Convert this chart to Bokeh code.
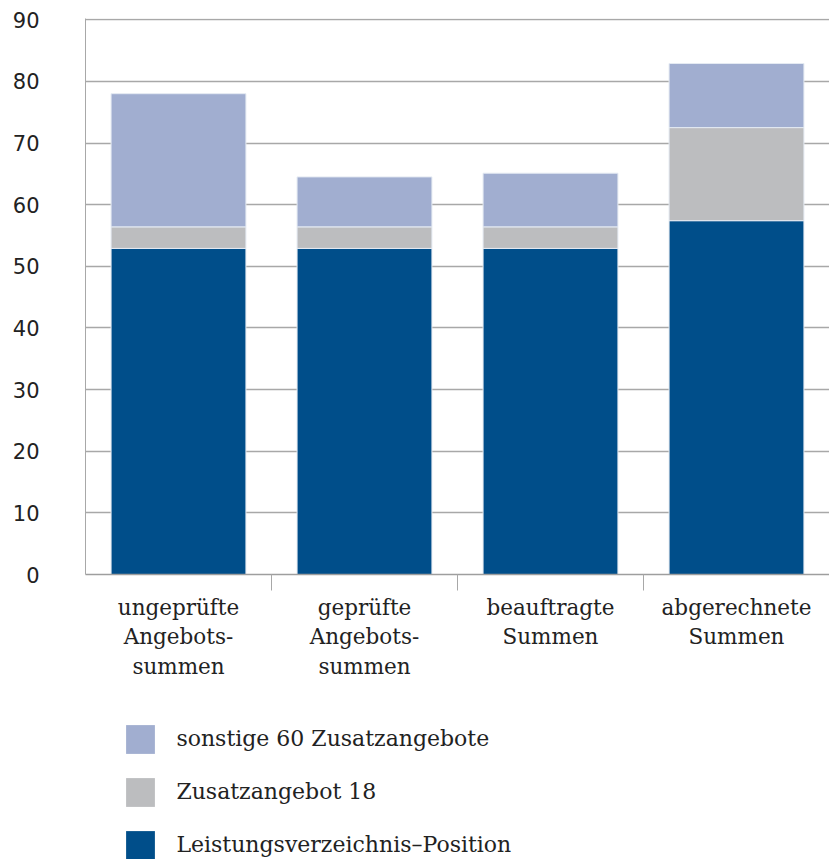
from bokeh.plotting import figure
from bokeh.layouts import column
from bokeh.models import ColumnDataSource, Range1d, FixedTicker, Legend, LegendItem
from bokeh.embed import file_html
from bokeh.resources import INLINE

# Categories (x axis) and stacked series values (Mio. EUR)
categories = [
    "ungeprüfte\nAngebots-\nsummen",
    "geprüfte\nAngebots-\nsummen",
    "beauftragte\nSummen",
    "abgerechnete\nSummen",
]
leistungsverzeichnis = [52.9, 52.9, 52.9, 57.4]
zusatzangebot_18 = [3.5, 3.5, 3.5, 15.1]
sonstige_60 = [21.6, 8.1, 8.7, 10.4]

series_names = [
    "Leistungsverzeichnis–Position",
    "Zusatzangebot 18",
    "sonstige 60 Zusatzangebote",
]
series_colors = ["#004E8A", "#BCBDBF", "#A1AED0"]
y_ticks = [0, 10, 20, 30, 40, 50, 60, 70, 80, 90]

W = 829
CHART_H = 700
LEGEND_H = 159
outline = "#E4EAF2"

x_pos = [i + 0.5 for i in range(len(categories))]
source = ColumnDataSource(dict(
    x=x_pos,
    lv=leistungsverzeichnis,
    z18=zusatzangebot_18,
    s60=sonstige_60,
))
stackers = ["lv", "z18", "s60"]

# a hair of headroom above 90 so the top grid line is not clipped by the frame
p = figure(
    width=W, height=CHART_H,
    output_backend="svg", toolbar_location=None,
    x_range=Range1d(0, len(categories)), y_range=Range1d(0, 90.2),
    min_border_left=85, min_border_right=0,
    min_border_top=18, min_border_bottom=CHART_H - 574,
)
p.outline_line_color = None

p.vbar_stack(
    stackers, x="x", width=0.725, source=source,
    fill_color=series_colors, line_color=outline, line_width=1,
)

grid_gray = "#A8A8A8"

# x axis: labels centred under bars, separators between categories
p.xaxis.ticker = FixedTicker(ticks=x_pos, minor_ticks=list(range(1, len(categories))))
p.xaxis.major_label_overrides = {xv: c for xv, c in zip(x_pos, categories)}
p.xaxis.major_tick_line_color = None
p.xaxis.major_tick_out = 0
p.xaxis.major_tick_in = 0
p.xaxis.minor_tick_in = 0
p.xaxis.minor_tick_out = 16
p.xaxis.minor_tick_line_color = grid_gray
p.xaxis.axis_line_color = "#9E9E9E"
p.xaxis.axis_line_width = 1.5
p.xaxis.major_label_text_font = "DejaVu Serif"
p.xaxis.major_label_text_font_size = "21.5px"
p.xaxis.major_label_text_color = "#222222"
p.xaxis.major_label_text_line_height = 1.18
p.xaxis.major_label_standoff = 4
p.xgrid.grid_line_color = None

# y axis
p.yaxis.ticker = FixedTicker(ticks=y_ticks)
p.yaxis.major_tick_line_color = None
p.yaxis.minor_tick_line_color = None
p.yaxis.major_tick_out = 0
p.yaxis.major_tick_in = 0
p.yaxis.major_label_standoff = 46
p.yaxis.axis_line_color = grid_gray
p.yaxis.major_label_text_font = "DejaVu Sans"
p.yaxis.major_label_text_font_size = "21px"
p.yaxis.major_label_text_color = "#222222"
p.ygrid.grid_line_color = grid_gray
p.ygrid.grid_line_width = 1.3

# Legend strip below the chart; swatches come from a hidden copy of the stack
lg = figure(
    width=W, height=LEGEND_H,
    output_backend="svg", toolbar_location=None,
    x_range=Range1d(0, len(categories)), y_range=Range1d(0, 90),
    x_axis_location=None, y_axis_location=None,
    min_border=0,
)
lg.outline_line_color = None
lg.xgrid.grid_line_color = None
lg.ygrid.grid_line_color = None

swatches = lg.vbar_stack(
    stackers, x="x", width=0.725, source=source,
    fill_color=series_colors, line_color=None,
    visible=False,
)

# area swatches are inset by 10% of the glyph box, so the box is 29 / 0.8 px
legend = Legend(
    items=[LegendItem(label=n, renderers=[r])
           for n, r in reversed(list(zip(series_names, swatches)))],
    location=(37.4, -3.6),
    orientation="vertical",
    glyph_width=36, glyph_height=36,
    label_standoff=18, spacing=17,
    padding=0, margin=0,
    border_line_color=None, background_fill_alpha=0,
    inactive_fill_alpha=0,
    label_text_font="DejaVu Serif", label_text_font_size="22px",
    label_text_color="#222222",
)
lg.add_layout(legend)

layout = column(p, lg, spacing=0)
open("out.html", "w").write(file_html(layout, INLINE))
